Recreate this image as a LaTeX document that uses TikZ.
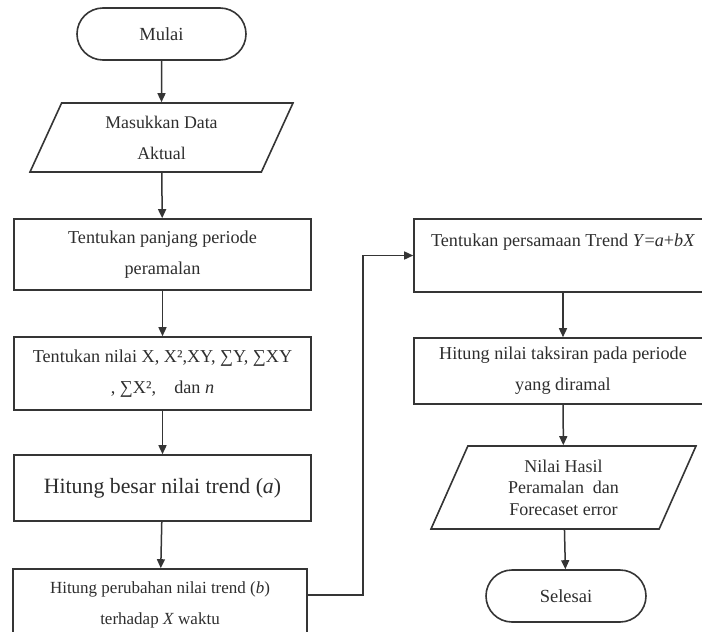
\documentclass[tikz,border=0pt]{standalone}
\usepackage{fontspec}
\setmainfont{Liberation Serif}
\usetikzlibrary{shapes.geometric,arrows.meta}
\definecolor{garisabu}{HTML}{353535}
\definecolor{teksabu}{HTML}{2E2E2E}

\begin{document}
\begin{tikzpicture}[x=1pt,y=-1pt,
    every node/.style={text=teksabu},
    garis/.style={draw=garisabu,line width=1.6pt},
    proses/.style={garis,rectangle,minimum width=297,minimum height=71,
      align=center,inner sep=0pt,font=\fontsize{18.2}{31}\selectfont},
    terminal/.style={garis,rectangle,rounded corners=26,minimum width=169,
      minimum height=52,font=\fontsize{18.5}{20}\selectfont},
    dataio/.style={garis,trapezium,trapezium left angle=54,trapezium right angle=126,
      trapezium stretches body=true,minimum height=69,minimum width=263,
      align=center,inner sep=0pt,font=\fontsize{17.8}{31}\selectfont},
    panah/.style={draw=garisabu,line width=1.5pt,-{Triangle[length=9pt,width=8pt]}}]
    \useasboundingbox (0,0) rectangle (702,632);
    \clip (0,0) rectangle (702,632);
    \fill[white] (0,0) rectangle (702,632);

    % kolom kiri
    \node[terminal] (mulai) at (161.5,34) {Mulai};
    \node[dataio] (masuk) at (161.5,137.5) {Masukkan Data\\Aktual};
    \node[proses] (periode) at (162.5,254.5) {Tentukan panjang periode\\peramalan};
    \node[proses,minimum height=73] (nilaix) at (162.5,373.5)
      {Tentukan nilai X, X²,XY, ∑Y, ∑XY\\, ∑X²,\quad dan \textit{n}};
    \node[proses,minimum height=66,font=\fontsize{21.8}{25}\selectfont] (besar) at (162.5,488)
      {Hitung besar nilai trend (\textit{a})};
    \node[proses,minimum width=294,font=\fontsize{17}{31}\selectfont] (ubah) at (160,604.5)
      {Hitung perubahan nilai trend (\textit{b})\\terhadap \textit{X} waktu};

    % kolom kanan
    \node[proses,minimum width=298,minimum height=73] (tren) at (563,255.5)
      {Tentukan persamaan Trend \textit{Y}=\textit{a}+\textit{bX}\\~};
    \node[proses,minimum width=298,minimum height=66] (taksir) at (563,371)
      {Hitung nilai taksiran pada periode\\yang diramal};
    \node[dataio,trapezium left angle=56.5,trapezium right angle=123.5,
      minimum height=83,minimum width=265,font=\fontsize{18}{21.5}\selectfont]
      (hasil) at (563.5,487.5) {Nilai Hasil\\Peramalan\ \ dan\\Forecaset error};
    \node[terminal,minimum width=160] (selesai) at (566,596) {Selesai};

    % alur
    \coordinate (belok) at (363,595);
    \draw[panah] (mulai) -- (masuk);
    \draw[panah] (masuk) -- (periode);
    \draw[panah] (periode) -- (nilaix);
    \draw[panah] (nilaix) -- (besar);
    \draw[panah] (besar) -- (ubah);
    \draw[panah] (ubah.east |- belok) -- (belok) |- (tren.west);
    \draw[panah] (tren) -- (taksir);
    \draw[panah] (taksir) -- (hasil);
    \draw[panah] (hasil) -- (selesai);
  \end{tikzpicture}
\end{document}
